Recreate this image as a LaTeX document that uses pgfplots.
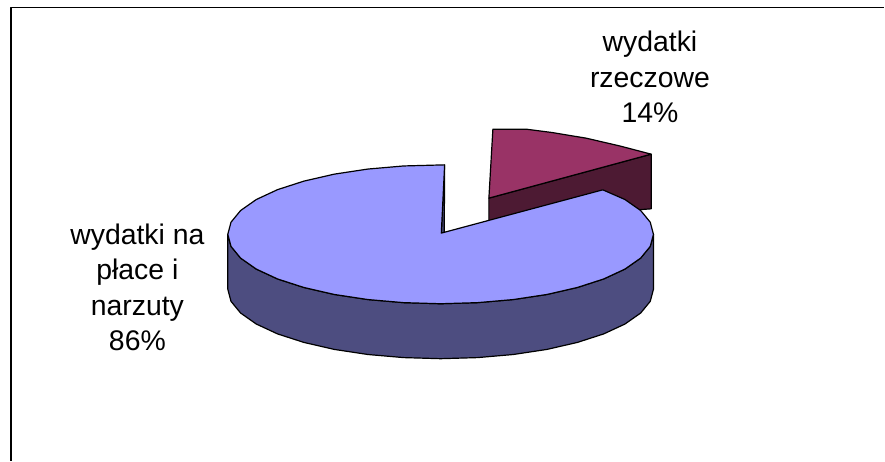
\documentclass[border=0pt]{standalone}
\usepackage{fontspec}
\setmainfont{Liberation Sans}
\usepackage{pgfplots}
\pgfplotsset{compat=1.18}
\definecolor{mainTop}{HTML}{9999FF}
\definecolor{mainSide}{HTML}{4D4D80}
\definecolor{smallTop}{HTML}{993366}
\definecolor{smallSide}{HTML}{4D1A33}
\begin{document}
\begin{tikzpicture}[x=1pt,y=1pt]
\begin{axis}[
    scale only axis, width=885pt, height=461pt,
    xmin=0, xmax=885, ymin=0, ymax=461, y dir=reverse,
    axis lines=none, ticks=none, clip=false,
    every axis plot/.append style={line join=round, line width=1.2pt},
]
% invisible corners, keep the page size
\addplot[draw=none, forget plot] coordinates {(0,0) (885,461)};
% frame (only left and top show)
\addplot[black, line width=1.5pt] coordinates {(11,461) (11,7.5) (885,7.5)};
% small slice, 14%
\addplot[draw=black, fill=smallSide] coordinates {(489.3,198.3) (651.7,154.3) (651.7,209) (489.3,221)} -- cycle;
\addplot[draw=black, fill=smallTop] coordinates {(489.3,198.3) (493.3,129.3) (526.7,129.3) (553,132.7) (586.7,138.3) (620,146) (651.7,154.3)} -- cycle;
% main slice side, 86%
\addplot[draw=black, fill=mainSide] coordinates {
  (228,234.5) (231.2,246.6) (240.8,258.3) (256.5,269.3) (277.8,279.2) (304.1,287.7)
  (334.5,294.7) (368.2,299.8) (404,302.9) (441,304) (478,302.9) (513.8,299.8)
  (547.5,294.7) (577.9,287.7) (604.2,279.2) (625.5,269.3) (641.2,258.3) (650.8,246.6)
  (654,234.5) (654,289.5) (650.8,301.6) (641.2,313.3) (625.5,324.3) (604.2,334.2)
  (577.9,342.7) (547.5,349.7) (513.8,354.8) (478,357.9) (441,359) (404,357.9)
  (368.2,354.8) (334.5,349.7) (304.1,342.7) (277.8,334.2) (256.5,324.3) (240.8,313.3)
  (231.2,301.6) (228,289.5)} -- cycle;
\addplot[draw=black, fill=mainSide] coordinates {(445,165) (441.7,233.3) (444.6,232.6)} -- cycle;
% main slice top
\addplot[draw=black, fill=mainTop] coordinates {
  (441.7,233.3) (445,165) (404,166.1) (368.2,169.2) (334.5,174.3) (304.1,181.3) (277.8,189.8)
  (256.5,199.7) (240.8,210.7) (231.2,222.4) (228,234.5) (231.2,246.6) (240.8,258.3)
  (256.5,269.3) (277.8,279.2) (304.1,287.7) (334.5,294.7) (368.2,299.8) (404,302.9)
  (441,304) (478,302.9) (513.8,299.8) (547.5,294.7) (577.9,287.7) (604.2,279.2)
  (625.5,269.3) (641.2,258.3) (650.8,246.6) (654,234.5) (650.8,222.4) (641.2,210.7)
  (625.5,199.7) (603.3,190)} -- cycle;
\node[align=center, font=\fontsize{28.4}{35.3}\selectfont] at (axis cs:137.5,287.5) {wydatki na\\płace i\\narzuty\\86\%};
\node[align=center, font=\fontsize{28.4}{35.6}\selectfont] at (axis cs:650.5,77.3) {wydatki\\rzeczowe\\14\%};
\end{axis}
\end{tikzpicture}
\end{document}
